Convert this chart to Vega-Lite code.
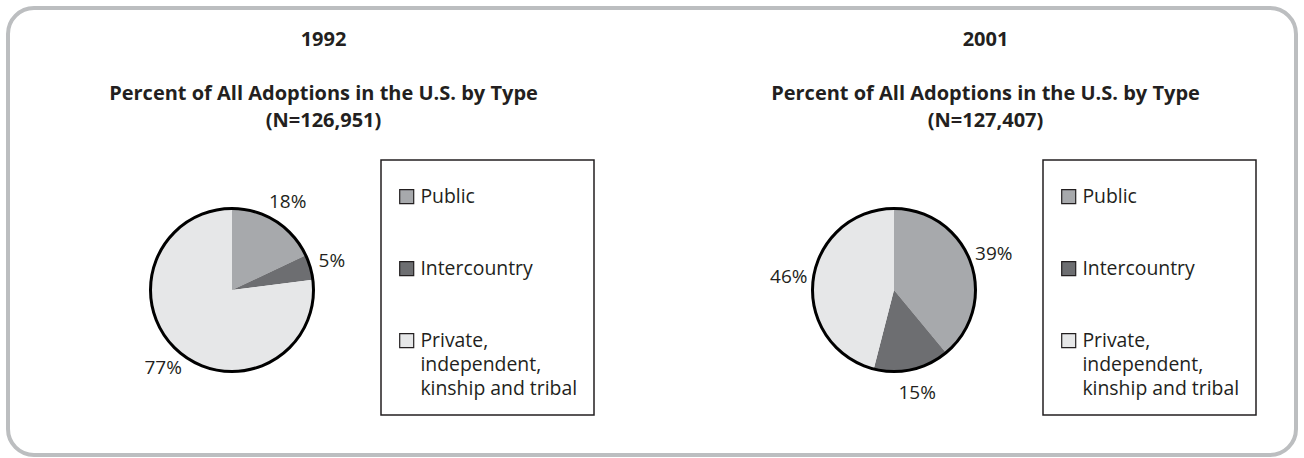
{
  "$schema": "https://vega.github.io/schema/vega-lite/v6.json",
  "width": 1304,
  "height": 458,
  "autosize": {"type": "fit", "contains": "padding"},
  "padding": {"left": 8, "top": 8, "right": 8, "bottom": 3},
  "background": "#ffffff",
  "datasets": {
    "slices": [
      {"year": "1992", "type": "Public", "share": 0.18, "k": 1},
      {"year": "1992", "type": "Intercountry", "share": 0.05, "k": 2},
      {"year": "1992", "type": "Private, independent, kinship and tribal", "share": 0.77, "k": 3},
      {"year": "2001", "type": "Public", "share": 0.39, "k": 1},
      {"year": "2001", "type": "Intercountry", "share": 0.15, "k": 2},
      {"year": "2001", "type": "Private, independent, kinship and tribal", "share": 0.46, "k": 3}
    ],
    "titles": [
      {"year": "1992", "subtitle": "Percent of All Adoptions in the U.S. by Type", "count": "(N=126,951)"},
      {"year": "2001", "subtitle": "Percent of All Adoptions in the U.S. by Type", "count": "(N=127,407)"}
    ]
  },
  "layer": [
    {
      "data": {"name": "slices"},
      "transform": [{"filter": "datum.year == '1992'"}],
      "mark": {"type": "arc", "radius": 81.5, "y": 282},
      "encoding": {
        "x": {"field": "year", "type": "nominal", "scale": {"type": "point", "range": [224, 886], "padding": 0}, "axis": null},
        "theta": {"field": "share", "type": "quantitative", "stack": true},
        "order": {"field": "k", "type": "quantitative"},
        "color": {
          "field": "type", "type": "nominal",
          "scale": {"domain": ["Public", "Intercountry", "Private, independent, kinship and tribal"], "range": ["#a7a9ac", "#6d6e71", "#e6e7e8"]},
          "legend": {
            "title": " ", "orient": "none", "legendX": 373, "legendY": 152,
            "labelExpr": "datum.label == 'Public' || datum.label == 'Intercountry' ? datum.label : ['Private,', 'independent,', 'kinship and tribal']",
            "encode": {"labels": {"update": {"lineHeight": {"value": 24}}}, "legend": {"update": {"strokeWidth": {"value": 1.5}}}}
          }
        }
      }
    },
    {
      "data": {"name": "slices"},
      "transform": [{"filter": "datum.year == '2001'"}],
      "mark": {"type": "arc", "radius": 81.5, "y": 282},
      "encoding": {
        "x": {"field": "year", "type": "nominal", "scale": {"type": "point", "range": [224, 886], "padding": 0}, "axis": null},
        "theta": {"field": "share", "type": "quantitative", "stack": true},
        "order": {"field": "k", "type": "quantitative"},
        "fill": {
          "field": "type", "type": "nominal",
          "sort": ["Public", "Intercountry", "Private, independent, kinship and tribal"],
          "scale": {"range": ["#a7a9ac", "#6d6e71", "#e6e7e8"]},
          "legend": {
            "title": " ", "orient": "none", "legendX": 1035, "legendY": 152,
            "labelExpr": "datum.label == 'Public' || datum.label == 'Intercountry' ? datum.label : ['Private,', 'independent,', 'kinship and tribal']",
            "encode": {"labels": {"update": {"lineHeight": {"value": 24}}}, "legend": {"update": {"strokeWidth": {"value": 1.5}}}}
          }
        }
      }
    },
    {
      "data": {"name": "slices"},
      "transform": [{"filter": "datum.type == 'Public'"}],
      "mark": {"type": "arc", "radius": 81.5, "y": 282, "theta": 0, "theta2": 6.2832, "filled": false, "stroke": "#000000", "strokeWidth": 3},
      "encoding": {
        "x": {"field": "year", "type": "nominal", "scale": {"type": "point", "range": [224, 886], "padding": 0}, "axis": null}
      }
    },
    {
      "data": {"name": "slices"},
      "transform": [{"filter": "datum.year == '1992'"}],
      "mark": {"type": "text", "radius": 104, "y": 282, "fontSize": 19, "color": "#231f20", "align": "center", "baseline": "middle"},
      "encoding": {
        "x": {"field": "year", "type": "nominal", "scale": {"type": "point", "range": [224, 886], "padding": 0}, "axis": null},
        "theta": {"field": "share", "type": "quantitative", "stack": true},
        "order": {"field": "k", "type": "quantitative"},
        "text": {"field": "share", "type": "quantitative", "format": ".0%"}
      }
    },
    {
      "data": {"name": "slices"},
      "transform": [{"filter": "datum.year == '2001'"}],
      "mark": {"type": "text", "radius": 106, "y": 282, "fontSize": 19, "color": "#231f20", "align": "center", "baseline": "middle"},
      "encoding": {
        "x": {"field": "year", "type": "nominal", "scale": {"type": "point", "range": [224, 886], "padding": 0}, "axis": null},
        "theta": {"field": "share", "type": "quantitative", "stack": true},
        "order": {"field": "k", "type": "quantitative"},
        "text": {"field": "share", "type": "quantitative", "format": ".0%"}
      }
    },
    {
      "data": {"name": "titles"},
      "mark": {"type": "text", "y": 32, "dx": 91.5, "fontSize": 20, "fontWeight": "bold", "color": "#231f20", "align": "center", "baseline": "middle"},
      "encoding": {
        "x": {"field": "year", "type": "nominal", "scale": {"type": "point", "range": [224, 886], "padding": 0}, "axis": null},
        "text": {"field": "year", "type": "nominal"}
      }
    },
    {
      "data": {"name": "titles"},
      "mark": {"type": "text", "y": 86, "dx": 91.5, "fontSize": 20, "fontWeight": "bold", "color": "#231f20", "align": "center", "baseline": "middle"},
      "encoding": {
        "x": {"field": "year", "type": "nominal", "scale": {"type": "point", "range": [224, 886], "padding": 0}, "axis": null},
        "text": {"field": "subtitle", "type": "nominal"}
      }
    },
    {
      "data": {"name": "titles"},
      "mark": {"type": "text", "y": 113, "dx": 91.5, "fontSize": 20, "fontWeight": "bold", "color": "#231f20", "align": "center", "baseline": "middle"},
      "encoding": {
        "x": {"field": "year", "type": "nominal", "scale": {"type": "point", "range": [224, 886], "padding": 0}, "axis": null},
        "text": {"field": "count", "type": "nominal"}
      }
    }
  ],
  "resolve": {"scale": {"color": "independent", "fill": "independent"}},
  "config": {
    "font": "Open Sans",
    "view": {"stroke": "#bcbec0", "strokeWidth": 4, "cornerRadius": 26},
    "legend": {
      "padding": 16,
      "strokeColor": "#231f20",
      "symbolType": "square",
      "symbolSize": 196,
      "symbolStrokeColor": "#231f20",
      "symbolStrokeWidth": 1.2,
      "symbolOpacity": 1,
      "labelFont": "Open Sans",
      "labelFontSize": 19.4,
      "labelColor": "#231f20",
      "labelOffset": 4,
      "labelLimit": 400,
      "rowPadding": 51,
      "titleFontSize": 6,
      "titlePadding": 5
    }
  }
}
